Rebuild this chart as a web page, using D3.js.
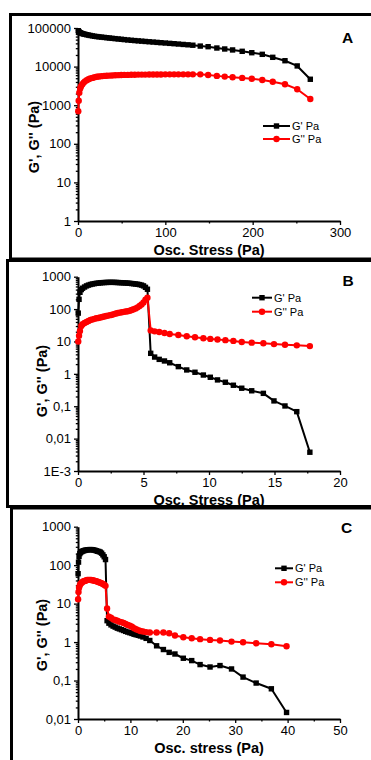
<!DOCTYPE html>
<html><head><meta charset="utf-8">
<script src="https://cdn.jsdelivr.net/npm/d3@7"></script>
<style>
html,body{margin:0;padding:0;background:#fff;}
svg{display:block;}
text{font-family:"Liberation Sans",Arial,sans-serif;fill:#000;}
</style></head><body>
<svg id="chart" width="371" height="760"></svg>
<script>
// Panel A: amplitude sweep, stress up to ~270 Pa
const stressA = [0.3,0.8,1.5,2.5,3.5,5,6.5,8,10,12,14,16.5,19,21.5,24,27,30,33,36,39,42.5,46,49.5,53,57,61,65,69,73,77,81.5,86,90.5,95,100,105,110,115,120.5,126,131.5,140,149,159,168,177,188,199,211,223,237,251,266];
const gPrimeA = [85000,81000,78000,75500,73500,71500,70000,68500,67000,65500,64000,62500,61000,60000,59000,58000,57000,56000,55000,54000,53000,52000,51000,50000,49000,48000,47200,46400,45600,44800,44000,43200,42400,41600,40800,40000,39200,38400,37500,36700,35800,34000,32800,30300,28600,27000,24900,22900,20800,17400,14200,10400,4700];
const gDoubleA = [700,1300,2100,2700,3100,3500,3850,4150,4450,4700,4900,5100,5300,5450,5550,5650,5750,5800,5850,5900,5950,6000,6050,6100,6100,6150,6150,6200,6200,6200,6250,6250,6250,6250,6300,6300,6300,6300,6300,6300,6300,6300,6050,5750,5500,5300,5100,4850,4500,4050,3500,2600,1450];

// Panel B: stress up to ~18 Pa
const stressB = [0.02,0.08,0.15,0.25,0.35,0.5,0.65,0.8,0.95,1.1,1.25,1.4,1.55,1.7,1.85,2.0,2.15,2.3,2.45,2.6,2.75,2.9,3.05,3.2,3.35,3.5,3.65,3.8,3.95,4.1,4.25,4.4,4.55,4.7,4.85,5.0,5.15,5.3,5.55,5.85,6.2,6.6,7.0,7.66,8.3,8.93,9.57,10.1,10.65,11.25,11.86,12.5,13.26,14.15,14.96,15.8,16.7,17.7];
const gPrimeB = [75,200,330,400,440,480,520,550,575,595,610,625,635,645,655,660,665,668,670,670,668,665,660,655,650,645,640,632,625,615,605,595,585,570,550,520,470,410,4.3,3.3,2.8,2.5,2.2,1.67,1.32,1.12,0.92,0.785,0.65,0.55,0.445,0.36,0.30,0.25,0.146,0.102,0.068,0.0038];
const gDoubleB = [10,15,21,30,34,37,40,43,46,48,50,52,53,55,57,59,61,63,65,67,70,73,76,78,80,82,84,86,89,94,99,105,113,124,138,160,195,225,22,20.5,19.5,18.2,17,15.8,14.5,13.5,12.6,12.0,11.5,11.0,10.4,9.6,9.2,8.8,8.3,7.9,7.6,7.2];

// Panel C: stress up to ~40 Pa
const stressC = [0.02,0.1,0.2,0.35,0.5,0.7,0.9,1.1,1.3,1.5,1.75,2.0,2.25,2.5,2.75,3.0,3.25,3.5,3.75,4.0,4.25,4.5,4.75,5.0,5.25,5.55,5.9,6.3,6.7,7.1,7.5,7.9,8.3,8.7,9.1,9.5,9.9,10.3,10.7,11.1,11.5,11.9,12.4,13.0,13.7,15.0,16.3,17.4,18.5,20.1,21.7,23.3,25.2,27.1,29.3,31.5,34.0,36.9,39.8];
const gPrimeC = [60,120,170,200,215,225,232,238,242,246,250,252,254,254,252,248,243,236,230,226,218,205,185,165,140,3.6,3.1,2.8,2.6,2.45,2.3,2.2,2.1,2.0,1.9,1.82,1.75,1.68,1.6,1.55,1.5,1.44,1.36,1.25,1.1,0.8,0.64,0.54,0.49,0.38,0.33,0.26,0.225,0.245,0.2,0.123,0.086,0.061,0.0148];
const gDoubleC = [13,20,26,30,33,35,37,38,39,40,41,41.5,41.5,41,40.5,40,39,38,37,36,35,34,32.5,31,29,7.5,4.6,4.3,3.9,3.75,3.6,3.4,3.3,3.15,2.95,2.8,2.65,2.5,2.3,2.15,2.05,1.95,1.88,1.82,1.77,1.78,1.77,1.7,1.48,1.34,1.26,1.19,1.14,1.1,1.03,0.99,0.93,0.88,0.78];

// Axis ticks and labels
const yTicksA = [1,10,100,1000,10000,100000];
const yLabelsA = ["1","10","100","1000","10000","100000"];
const xTicksA = [0,100,200,300];
const xMinorA = [50,150,250];

const yTicksB = [0.001,0.01,0.1,1,10,100,1000];
const yLabelsB = ["1E-3","0,01","0,1","1","10","100","1000"];
const xTicksB = [0,5,10,15,20];
const xMinorB = [2.5,7.5,12.5,17.5];

const yTicksC = [0.01,0.1,1,10,100,1000];
const yLabelsC = ["0,01","0,1","1","10","100","1000"];
const xTicksC = [0,10,20,30,40,50];
const xMinorC = [5,15,25,35,45];

const seriesNames = ["G' Pa", "G'' Pa"];
const seriesColors = ["#000000", "#ff0000"];

const panels = [
  {letter:"A", stress:stressA, gp:gPrimeA, gpp:gDoubleA, xDomain:[0,300], yDomain:[1,100000],
   yTicks:yTicksA, yLabels:yLabelsA, xTicks:xTicksA, xMinor:xMinorA, xTitle:"Osc. Stress (Pa)",
   frame:{x:10.5,y:14.5,w:380,h:244.5}, top:28, bottom:221,
   yTitle:{x:38.5,y:137}, letterPos:{x:347.5,y:42.5}, legend:{x0:263,x1:290,y:126,dy:13}},
  {letter:"B", stress:stressB, gp:gPrimeB, gpp:gDoubleB, xDomain:[0,20], yDomain:[0.001,1000],
   yTicks:yTicksB, yLabels:yLabelsB, xTicks:xTicksB, xMinor:xMinorB, xTitle:"Osc. Stress (Pa)",
   frame:{x:7.5,y:260.5,w:380,h:246}, top:276.7, bottom:471,
   yTitle:{x:46.5,y:381}, letterPos:{x:348,y:285.5}, legend:{x0:252,x1:272,y:297.7,dy:14}},
  {letter:"C", stress:stressC, gp:gPrimeC, gpp:gDoubleC, xDomain:[0,50], yDomain:[0.01,1000],
   yTicks:yTicksC, yLabels:yLabelsC, xTicks:xTicksC, xMinor:xMinorC, xTitle:"Osc. stress (Pa)",
   frame:{x:11.5,y:508,w:380,h:270}, top:526.7, bottom:719,
   yTitle:{x:46.5,y:635}, letterPos:{x:346.7,y:533.3}, legend:{x0:275,x1:293,y:568.3,dy:14}}
];

const svg = d3.select("#chart");
const X0 = 78, X1 = 340;

function logMinors(domain) {
  const out = [];
  const lo = Math.floor(Math.log10(domain[0])), hi = Math.ceil(Math.log10(domain[1]));
  for (let e = lo; e < hi; e++) {
    for (let m = 2; m <= 9; m++) {
      const v = m * Math.pow(10, e);
      if (v > domain[0] && v < domain[1]) out.push(v);
    }
  }
  return out;
}

function drawMarker(g, kind, cx, cy, color) {
  if (kind === 0) {
    g.append("rect").attr("x", cx - 2.7).attr("y", cy - 2.7).attr("width", 5.4).attr("height", 5.4).attr("fill", color);
  } else {
    g.append("circle").attr("cx", cx).attr("cy", cy).attr("r", 3.2).attr("fill", color);
  }
}

panels.forEach(p => {
  const g = svg.append("g");
  const x = d3.scaleLinear().domain(p.xDomain).range([X0, X1]);
  const y = d3.scaleLog().domain(p.yDomain).range([p.bottom, p.top]);

  // panel frame
  g.append("rect").attr("x", p.frame.x).attr("y", p.frame.y)
    .attr("width", p.frame.w).attr("height", p.frame.h)
    .attr("fill", "none").attr("stroke", "#000").attr("stroke-width", 3);

  // x axis
  g.append("g").attr("transform", `translate(0,${p.bottom})`)
    .call(d3.axisBottom(x).tickValues(p.xTicks).tickFormat(d3.format("d")).tickSize(4).tickSizeOuter(0).tickPadding(3));
  g.append("g").attr("transform", `translate(0,${p.bottom})`)
    .call(d3.axisBottom(x).tickValues(p.xMinor).tickFormat("").tickSize(2.5).tickSizeOuter(0))
    .select(".domain").remove();

  // y axis
  g.append("g").attr("transform", `translate(${X0},0)`)
    .call(d3.axisLeft(y).tickValues(p.yTicks).tickFormat((d, i) => p.yLabels[i]).tickSize(4).tickSizeOuter(0).tickPadding(3));
  g.append("g").attr("transform", `translate(${X0},0)`)
    .call(d3.axisLeft(y).tickValues(logMinors(p.yDomain)).tickFormat("").tickSize(2.2).tickSizeOuter(0))
    .select(".domain").remove();

  g.selectAll(".domain").attr("stroke", "#000").attr("stroke-width", 2);
  g.selectAll(".tick line").attr("stroke", "#000").attr("stroke-width", 1.3);
  g.selectAll(".tick text").attr("font-size", 13).attr("font-family", "Liberation Sans, Arial, sans-serif").attr("fill", "#000");

  // titles
  g.append("text").attr("x", (X0 + X1) / 2).attr("y", p.bottom + 33.5)
    .attr("text-anchor", "middle").attr("font-size", 14.5).attr("font-weight", "bold").text(p.xTitle);
  g.append("text").attr("transform", `translate(${p.yTitle.x},${p.yTitle.y}) rotate(-90)`)
    .attr("text-anchor", "middle").attr("font-size", 14.5).attr("font-weight", "bold").text("G', G'' (Pa)");
  g.append("text").attr("x", p.letterPos.x).attr("y", p.letterPos.y)
    .attr("text-anchor", "middle").attr("font-size", 15.5).attr("font-weight", "bold").text(p.letter);

  // series: G' then G'' drawn over it
  const line = d3.line().x(d => x(d[0])).y(d => y(d[1]));
  [p.gp, p.gpp].forEach((vals, k) => {
    const pts = p.stress.map((s, i) => [s, vals[i]]);
    const sg = g.append("g");
    sg.append("path").datum(pts).attr("d", line).attr("fill", "none")
      .attr("stroke", seriesColors[k]).attr("stroke-width", 2).attr("stroke-linejoin", "round");
    pts.forEach(d => drawMarker(sg, k, x(d[0]), y(d[1]), seriesColors[k]));
  });

  // legend
  const lg = p.legend;
  seriesNames.forEach((name, k) => {
    const ly = lg.y + k * lg.dy;
    g.append("line").attr("x1", lg.x0).attr("x2", lg.x1).attr("y1", ly).attr("y2", ly)
      .attr("stroke", seriesColors[k]).attr("stroke-width", 2);
    drawMarker(g, k, (lg.x0 + lg.x1) / 2, ly, seriesColors[k]);
    g.append("text").attr("x", lg.x1 + 2).attr("y", ly).attr("dy", "0.36em")
      .attr("font-size", 11).text(name);
  });
});
</script>
</body></html>
